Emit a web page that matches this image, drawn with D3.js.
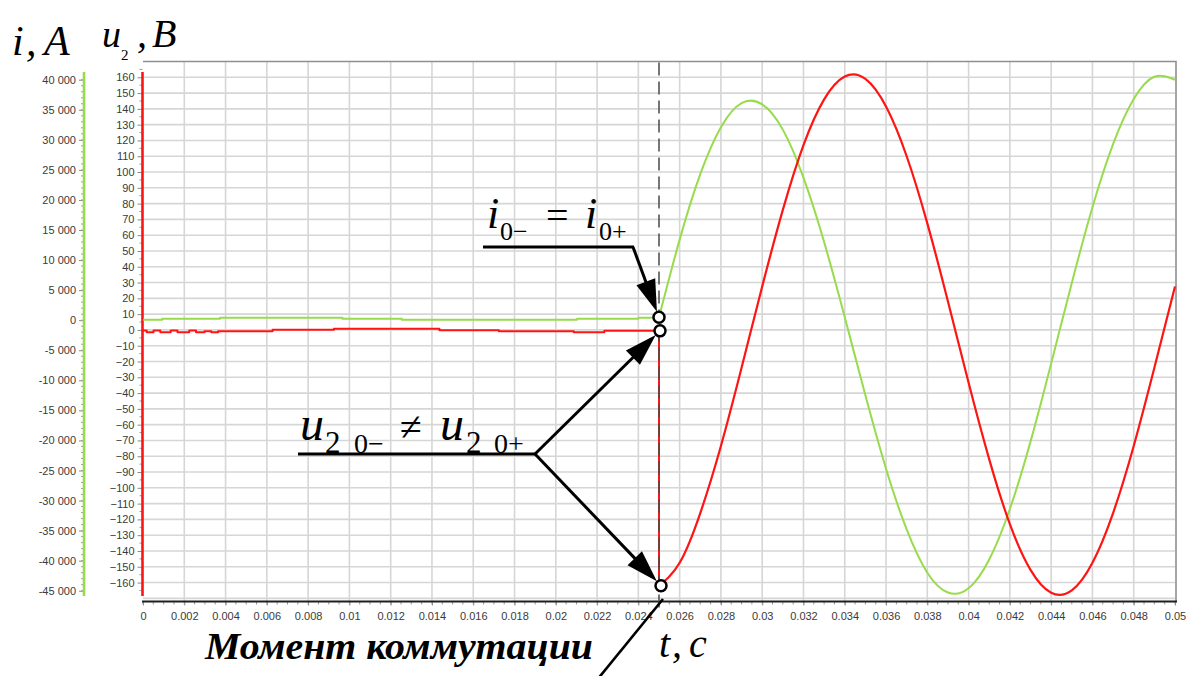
<!DOCTYPE html>
<html>
<head>
<meta charset="utf-8">
<script src="https://cdn.jsdelivr.net/npm/d3@7"></script>
<style>
  html, body { margin: 0; padding: 0; background: #fff; }
  svg { display: block; }
  .tick text { font-family: "Liberation Sans", Arial, sans-serif; font-size: 11px; fill: #3a3a3a; }
</style>
</head>
<body>
<svg id="chart" width="1186" height="676"></svg>
<script>
// ---- time axis (s) ----
const timeTicks = [0, 0.002, 0.004, 0.006, 0.008, 0.01, 0.012, 0.014, 0.016, 0.018, 0.02, 0.022, 0.024,
                   0.026, 0.028, 0.03, 0.032, 0.034, 0.036, 0.038, 0.04, 0.042, 0.044, 0.046, 0.048, 0.05];
const timeTickLabels = ["0", "0.002", "0.004", "0.006", "0.008", "0.01", "0.012", "0.014", "0.016", "0.018", "0.02",
                        "0.022", "0.024", "0.026", "0.028", "0.03", "0.032", "0.034", "0.036", "0.038", "0.04",
                        "0.042", "0.044", "0.046", "0.048", "0.05"];

// ---- voltage axis u2 (V) ----
const voltageTicks = [160, 150, 140, 130, 120, 110, 100, 90, 80, 70, 60, 50, 40, 30, 20, 10, 0,
                      -10, -20, -30, -40, -50, -60, -70, -80, -90, -100, -110, -120, -130, -140, -150, -160];

// ---- current axis i (A) ----
const currentTicks = [40000, 35000, 30000, 25000, 20000, 15000, 10000, 5000, 0,
                      -5000, -10000, -15000, -20000, -25000, -30000, -35000, -40000, -45000];
const currentTickLabels = ["40 000", "35 000", "30 000", "25 000", "20 000", "15 000", "10 000", "5 000", "0",
                           "-5 000", "-10 000", "-15 000", "-20 000", "-25 000", "-30 000", "-35 000", "-40 000", "-45 000"];

// switching instant
const tSwitch = 0.025;

// ---- before switching: recorded step values ----
const timeBeforeU = [0, 0.00018, 0.00051, 0.00084, 0.00134, 0.00167, 0.00224, 0.00257, 0.00298, 0.00331,
                     0.00364, 0.00628, 0.00925, 0.01436, 0.01724, 0.02087, 0.02235, 0.025];
const voltageBefore = [-0.4, -1.5, -0.4, -1.5, -0.4, -1.5, -0.4, -1.5, -0.8, -1.5,
                       -0.8, 0.1, 0.7, -0.2, -0.8, -1.5, -0.6, -0.6];

const timeBeforeI = [0, 0.00093, 0.00373, 0.00966, 0.01254, 0.02103, 0.0240, 0.025];
const currentBefore = [70, 230, 400, 230, 70, 230, 400, 480];

// ---- after switching ----
const timeAfter = [0.025, 0.026, 0.027, 0.028, 0.029, 0.030, 0.031, 0.032, 0.033, 0.034, 0.035, 0.036, 0.037,
                   0.038, 0.039, 0.040, 0.041, 0.042, 0.043, 0.044, 0.045, 0.046, 0.047, 0.048, 0.049, 0.050];
const currentAfter = [480, 13400, 24300, 32100, 36100, 35900, 31700, 23700, 13000, 500, -12500, -24700, -34800,
                      -42000, -45300, -44600, -39800, -31400, -20200, -7200, 6200, 18800, 29300, 36800, 40500, 40000];
const voltageAfter = [-162, -147.5, -116, -73.5, -24, 27.5, 76, 117, 146, 160.5, 159, 141.5, 110,
                      67.5, 18, -33.5, -82, -123, -152, -166.5, -165, -147.5, -116, -73.5, -24, 27.5];

const GREEN = "#98db4c";
const RED = "#ff1414";
const SERIF = "'Liberation Serif', 'DejaVu Serif', 'Times New Roman', serif";

const svg = d3.select("#chart");
svg.append("rect").attr("width", 1186).attr("height", 676).attr("fill", "#fff");

const plot = { left: 143, right: 1175, top: 61.5, bottom: 601.5 };

const x = d3.scaleLinear().domain([0, 0.05]).range([plot.left, plot.right]);
const yU = d3.scaleLinear().domain([-172, 170]).range([plot.bottom, plot.top]);
const yI = d3.scaleLinear().domain([-46790, 43030]).range([plot.bottom, plot.top]);

// ---- grid ----
const grid = svg.append("g").attr("stroke", "#d6d6d6").attr("stroke-width", 1.6);
grid.selectAll("line.v").data(timeTicks.filter(t => t > 0 && t < 0.05)).join("line")
  .attr("x1", d => x(d)).attr("x2", d => x(d))
  .attr("y1", plot.top).attr("y2", plot.bottom);
grid.selectAll("line.h").data(d3.range(-170, 170, 10)).join("line")
  .attr("x1", plot.left).attr("x2", plot.right)
  .attr("y1", d => yU(d)).attr("y2", d => yU(d));

// frame (top / right)
svg.append("path")
  .attr("d", `M${plot.left},${plot.top}H${plot.right + 1}V${plot.bottom}`)
  .attr("fill", "none").attr("stroke", "#8f8f8f").attr("stroke-width", 1.6);

// ---- x axis ----
const xAxis = d3.axisBottom(x).tickValues(timeTicks)
  .tickFormat((d, i) => timeTickLabels[i]).tickSize(4).tickPadding(7);
const gx = svg.append("g").attr("transform", `translate(0,${plot.bottom})`).call(xAxis);
gx.select(".domain").remove();
gx.selectAll(".tick line").attr("stroke", "#8a8a8a");
svg.append("g").selectAll("line").data(d3.range(0, 0.0501, 0.0005)).join("line")
  .attr("x1", d => x(d)).attr("x2", d => x(d))
  .attr("y1", plot.bottom).attr("y2", plot.bottom + 3)
  .attr("stroke", "#9a9a9a").attr("stroke-width", 1);
svg.append("line")
  .attr("x1", plot.left - 1).attr("x2", plot.right + 2)
  .attr("y1", plot.bottom).attr("y2", plot.bottom)
  .attr("stroke", "#1e1e1e").attr("stroke-width", 2.2);

// ---- voltage axis (red) ----
const uAxisX = 142.5;
const uAxis = d3.axisLeft(yU).tickValues(voltageTicks).tickSize(5).tickPadding(3);
const gu = svg.append("g").attr("transform", `translate(${uAxisX},0)`).call(uAxis);
gu.select(".domain").remove();
gu.selectAll(".tick line").attr("stroke", "#8a8a8a");
svg.append("g").selectAll("line").data(d3.range(-165, 170, 10)).join("line")
  .attr("x1", uAxisX - 3).attr("x2", uAxisX)
  .attr("y1", d => yU(d)).attr("y2", d => yU(d))
  .attr("stroke", "#9a9a9a");
svg.append("line").attr("x1", uAxisX).attr("x2", uAxisX)
  .attr("y1", 72).attr("y2", 596).attr("stroke", RED).attr("stroke-width", 2.6);

// ---- current axis (green) ----
const iAxisX = 84;
const iAxis = d3.axisLeft(yI).tickValues(currentTicks)
  .tickFormat((d, i) => currentTickLabels[i]).tickSize(5).tickPadding(3);
const gi = svg.append("g").attr("transform", `translate(${iAxisX},0)`).call(iAxis);
gi.select(".domain").remove();
gi.selectAll(".tick line").attr("stroke", "#8a8a8a");
svg.append("g").selectAll("line").data(d3.range(-45000, 41000, 1000)).join("line")
  .attr("x1", iAxisX - 3).attr("x2", iAxisX)
  .attr("y1", d => yI(d)).attr("y2", d => yI(d))
  .attr("stroke", "#a0a0a0");
svg.append("line").attr("x1", iAxisX).attr("x2", iAxisX)
  .attr("y1", 72).attr("y2", 596).attr("stroke", GREEN).attr("stroke-width", 2.6);

// ---- curves ----
const curves = svg.append("g").attr("fill", "none").attr("stroke-linejoin", "round");

const stepU = d3.line().x(d => x(d[0])).y(d => yU(d[1])).curve(d3.curveStepAfter);
const stepI = d3.line().x(d => x(d[0])).y(d => yI(d[1])).curve(d3.curveStepAfter);
const smoothU = d3.line().x(d => x(d[0])).y(d => yU(d[1])).curve(d3.curveNatural);
const smoothI = d3.line().x(d => x(d[0])).y(d => yI(d[1])).curve(d3.curveNatural);

curves.append("path")
  .attr("d", stepI(timeBeforeI.map((t, i) => [t, currentBefore[i]])))
  .attr("stroke", GREEN).attr("stroke-width", 2);
curves.append("path")
  .attr("d", smoothI(timeAfter.map((t, i) => [t, currentAfter[i]])))
  .attr("stroke", GREEN).attr("stroke-width", 2);

curves.append("path")
  .attr("d", stepU(timeBeforeU.map((t, i) => [t, voltageBefore[i]])))
  .attr("stroke", RED).attr("stroke-width", 2);
// jump of u2 at the switching instant
curves.append("path")
  .attr("d", d3.line()([[x(tSwitch), yU(voltageBefore[voltageBefore.length - 1])],
                        [x(tSwitch), yU(voltageAfter[0])]]))
  .attr("stroke", RED).attr("stroke-width", 2);
curves.append("path")
  .attr("d", smoothU(timeAfter.map((t, i) => [t, voltageAfter[i]])))
  .attr("stroke", RED).attr("stroke-width", 2.2);

// switching instant marker
svg.append("line")
  .attr("x1", x(tSwitch)).attr("x2", x(tSwitch))
  .attr("y1", plot.top + 1).attr("y2", 612)
  .attr("stroke", "#4a4a4a").attr("stroke-width", 1.5).attr("stroke-dasharray", "13,6");

// ---- annotations ----
const ann = svg.append("g");

function arrow(x1, y1, x2, y2, back) {
  const dx = x2 - x1, dy = y2 - y1, L = Math.hypot(dx, dy);
  const ux = dx / L, uy = dy / L, nx = -uy, ny = ux;
  const tx = x2 - ux * back, ty = y2 - uy * back;
  const headLen = 32, headW = 10;
  const bx = tx - ux * headLen, by = ty - uy * headLen;
  ann.append("line").attr("x1", x1).attr("y1", y1).attr("x2", bx + ux * 4).attr("y2", by + uy * 4)
    .attr("stroke", "#000").attr("stroke-width", 3);
  ann.append("path")
    .attr("d", `M${tx},${ty}L${bx + nx * headW},${by + ny * headW}L${bx - nx * headW},${by - ny * headW}Z`)
    .attr("fill", "#000");
}

const cI = [x(tSwitch), yI(currentAfter[0])];
const cU0 = [x(tSwitch) + 1, yU(voltageBefore[voltageBefore.length - 1])];
const cU1 = [x(tSwitch) + 2, yU(voltageAfter[0])];

// i(0-) = i(0+)
ann.append("line").attr("x1", 483).attr("x2", 634).attr("y1", 247).attr("y2", 247)
  .attr("stroke", "#000").attr("stroke-width", 3);
arrow(633, 247, cI[0], cI[1], 6);

// u2(0-) != u2(0+)
ann.append("line").attr("x1", 298).attr("x2", 536).attr("y1", 454).attr("y2", 454)
  .attr("stroke", "#000").attr("stroke-width", 3);
arrow(535, 454, cU0[0], cU0[1], 6);
arrow(535, 454, cU1[0], cU1[1], 6);

// "Момент коммутации" pointer
ann.append("line").attr("x1", 597).attr("y1", 680).attr("x2", 663).attr("y2", 599)
  .attr("stroke", "#000").attr("stroke-width", 2.6);

// marker circles
ann.selectAll("circle").data([cI, cU0, cU1]).join("circle")
  .attr("cx", d => d[0]).attr("cy", d => d[1]).attr("r", 5.5)
  .attr("fill", "#fff").attr("stroke", "#000").attr("stroke-width", 2.5);

function txt(s, px, py, size, italic, weight) {
  return ann.append("text")
    .attr("x", px).attr("y", py)
    .attr("font-family", SERIF)
    .attr("font-size", size)
    .attr("font-style", italic ? "italic" : "normal")
    .attr("font-weight", weight || "normal")
    .attr("fill", "#000")
    .text(s);
}

// axis titles
txt("i", 12, 55, 42, true);
txt(",", 26, 55, 42, true);
txt("A", 44, 55, 42, true);
txt("u", 102, 47, 38, true);
txt("2", 121, 60, 15, false);
txt(",", 137, 47, 40, true);
txt("B", 152, 47, 40, true);

// i0- = i0+
txt("i", 487, 228, 44, true);
txt("0\u2212", 500, 240, 26, false);
txt("=", 546, 229, 40, false);
txt("i", 585, 228, 44, true);
txt("0+", 599, 240, 26, false);

// u2 0- != u2 0+
txt("u", 300, 440, 48, true);
txt("2", 325, 453, 31, false);
txt("0\u2212", 354, 453, 28, false);
txt("\u2260", 400, 440, 40, false);
txt("u", 440, 440, 48, true);
txt("2", 466, 453, 31, false);
txt("0+", 494, 453, 28, false);

// time axis title
txt("t", 659, 657, 40, true);
txt(",", 672, 657, 40, true);
txt("c", 689, 657, 40, true);

// switching instant caption
txt("Момент коммутации", 205, 659, 38, true, "bold")
  .attr("textLength", 388).attr("lengthAdjust", "spacingAndGlyphs");
</script>
</body>
</html>
